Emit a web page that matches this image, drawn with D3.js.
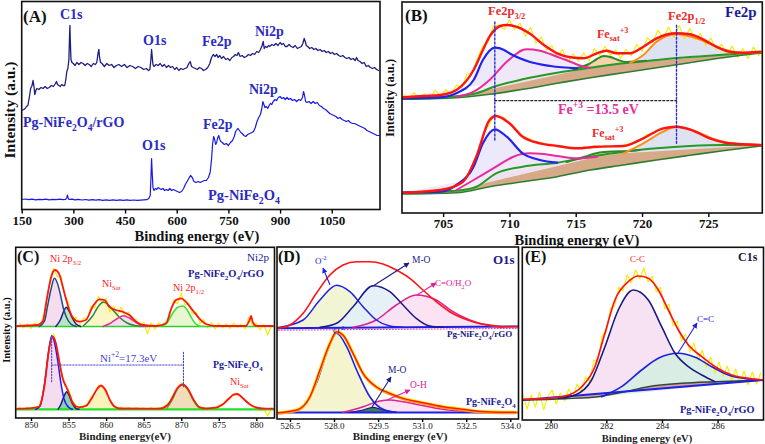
<!DOCTYPE html>
<html><head><meta charset="utf-8">
<script src="https://cdn.jsdelivr.net/npm/d3@7/dist/d3.min.js"></script>
<style>html,body{margin:0;padding:0;background:#fff;}svg{display:block;}</style>
</head><body>
<svg id="chart" width="765" height="444" xmlns="http://www.w3.org/2000/svg"></svg>
<script>
// ================= DATA =================
const ticksA=[150,300,450,600,750,900,1050];
const ticksB=[705,710,715,720,725];
const ticksC=[850,855,860,865,870,875,880];
const ticksD=[526.5,528,529.5,531,532.5,534];
const ticksE=[280,282,284,286];

// (A) survey spectra [binding energy, intensity]
const surveyRGO=[[150,99],[156,100],[160,101],[164,103],[168,104],[172,112],[176,121],[180,124],[183,129],[186,122],[188,115],[191,119],[194,121],[200,120],[206,122],[212,121],[218,123],[224,121],[230,122],[236,124],[242,123],[248,126],[251,128],[254,125],[258,124],[262,123],[266,125],[270,124],[275,124],[278,130],[281,138],[284,141],[287,150],[289,175],[290,184],[291,170],[293,150],[296,147],[300,146],[305,144],[310,147],[316,145],[322,147],[328,146],[334,144],[340,146],[346,145],[352,143],[358,146],[364,145],[368,147],[371,155],[374,160],[376,152],[379,147],[383,146],[390,143],[397,146],[404,144],[411,145],[418,142],[425,144],[432,145],[440,143],[448,145],[456,142],[464,144],[472,143],[480,141],[488,143],[496,142],[504,140],[512,141],[518,139],[522,140],[525,150],[527,160],[529,152],[531,145],[534,143],[540,145],[546,144],[552,146],[558,143],[564,145],[570,142],[576,144],[582,142],[588,143],[594,140],[600,142],[606,139],[612,141],[618,140],[624,141],[630,142],[635,146],[639,148],[643,143],[648,142],[654,141],[660,140],[666,142],[672,141],[678,139],[684,140],[690,142],[696,146],[701,152],[706,155],[711,153],[716,155],[720,152],[725,154],[730,151],[736,153],[742,150],[748,151],[754,149],[760,152],[765,153],[770,155],[775,154],[779,157],[784,153],[790,154],[796,152],[802,153],[808,155],[814,154],[820,156],[826,155],[832,158],[838,157],[843,160],[848,164],[851,168],[854,161],[858,163],[862,162],[866,164],[870,163],[876,165],[882,164],[888,166],[894,164],[900,167],[905,165],[910,166],[915,163],[920,163],[926,165],[932,163],[938,162],[944,164],[950,161],[956,162],[962,163],[966,166],[970,171],[973,168],[976,164],[980,163],[986,161],[992,162],[998,160],[1004,161],[1010,159],[1016,160],[1022,158],[1028,159],[1034,157],[1040,158],[1046,156],[1052,157],[1058,155],[1064,156],[1070,154],[1076,153],[1082,154],[1088,152],[1094,151],[1100,152],[1106,150],[1112,151],[1118,149],[1122,152],[1126,149],[1132,148],[1138,146],[1144,147],[1150,143],[1156,144],[1162,142],[1168,141],[1174,142],[1180,140],[1186,139]];
const surveyNF=[[150,10],[160,10.5],[170,9.8],[180,10.3],[190,9.7],[200,10.2],[210,9.9],[220,10.4],[230,9.6],[240,10.1],[250,9.8],[260,10.3],[270,9.9],[278,10.2],[281,12],[283,14.5],[285,11],[288,10],[296,10.3],[305,9.7],[315,10.1],[325,9.5],[335,10],[345,9.4],[355,9.9],[365,9.3],[375,9.8],[385,9.2],[395,9.7],[405,9.1],[415,9.6],[425,9.2],[435,9.7],[445,9.1],[455,9.6],[465,9.2],[475,9.5],[485,9.1],[495,9.4],[505,9.6],[513,9.8],[519,11],[523,14],[525,30],[527,51],[529,35],[531,22],[534,19],[538,21],[542,20],[546,22],[550,21],[555,20],[560,21],[565,19],[570,20],[575,19],[580,21],[585,19],[590,20],[596,19],[602,18],[608,17],[614,18],[620,21],[625,25],[630,28],[635,31],[640,34],[645,32],[650,28],[656,27],[662,28],[668,27],[674,28],[680,29],[686,29],[692,32],[697,37],[701,50],[704,65],[707,73],[710,70],[713,65],[716,67],[719,72],[722,74],[725,70],[728,68],[732,67],[738,65],[744,66],[750,64],[756,67],[762,69],[767,73],[771,78],[775,80],[778,81],[782,79],[786,77],[790,76],[795,74],[800,73],[806,75],[812,76],[818,77],[823,78],[828,82],[833,88],[838,92],[843,95],[847,101],[850,108],[853,105],[856,102],[860,103],[864,101],[868,104],[872,106],[876,105],[880,108],[885,110],[890,109],[895,112],[900,113],[905,111],[910,112],[915,110],[920,112],[925,110],[930,111],[936,109],[942,110],[948,108],[954,110],[960,109],[965,112],[968,118],[971,114],[974,108],[978,107],[984,108],[990,106],[996,108],[1002,106],[1008,107],[1014,104],[1020,103],[1026,101],[1032,100],[1038,98],[1044,96],[1050,95],[1056,94],[1062,93],[1068,91],[1074,92],[1080,90],[1086,89],[1092,88],[1098,89],[1104,87],[1110,86],[1116,86],[1122,85],[1128,84],[1134,83],[1140,82],[1146,81],[1152,79],[1158,78],[1164,77],[1170,76],[1176,75],[1182,74],[1188,74]];

// (B) Fe2p, Pg-NiFe2O4/rGO (upper)
const fe2pRGORaw=[[702.0,118.7],[702.4,114],[702.8,120.3],[703.2,113.7],[703.6,119.1],[704.0,113.5],[704.4,123],[704.8,116.6],[705.2,123.6],[705.6,118],[706.0,128],[706.4,125],[706.8,139],[707.2,140],[707.6,155],[708.0,167],[708.4,171],[708.8,187],[709.2,188],[709.6,183.6],[710.0,193],[710.4,183.5],[710.8,190],[711.2,176.7],[711.6,185.6],[712.0,170],[712.4,176],[712.8,163],[713.2,167.4],[713.6,155.5],[714.0,163.5],[714.4,151.2],[714.8,159.3],[715.2,151.9],[715.6,160],[716.0,152],[716.4,164.4],[716.8,157.5],[717.2,166.7],[717.6,157.6],[718.0,163],[718.4,154.6],[718.8,163.6],[719.2,157.2],[719.6,168.7],[720.0,161.5],[720.4,175.3],[720.8,170],[721.2,183],[721.6,174.4],[722.0,186],[722.4,175.6],[722.8,187.6],[723.2,174.3],[723.6,184.4],[724.0,173],[724.4,179.4],[724.8,167.6],[725.2,174.8],[725.6,163.3],[726.0,168.5],[726.4,157.9],[726.8,166.9],[727.2,155.4],[727.6,164.3],[728.0,154.5],[728.4,165.9],[728.8,157.2],[729.1,164.3]];
const fe2pRGOEnv=[[702.0,115.7],[703.5,117],[704.8,118],[706.0,123],[707.3,143],[708.0,163],[708.5,176.3],[709.3,187],[709.8,188],[710.5,186.3],[711.5,179.7],[712.6,168],[713.6,159.7],[714.6,155.7],[715.6,154.7],[716.6,159.7],[717.3,162.3],[718.1,159.7],[719.1,159.7],[720.1,166.3],[721.1,174.7],[722.6,179.7],[723.6,178.7],[724.6,173.7],[725.6,166.3],[726.6,161.3],[727.6,160.3],[728.9,161.3]];
const fe2pRGOShirley=[[701.9,115.3],[706.0,116.7],[707.5,119.7],[709.0,127],[711.0,133.7],[713.6,140.3],[716.1,145.3],[718.6,149.7],[721.1,153],[723.6,156],[726.1,158.3],[729.1,161]];
const fe2pRGOLinear=[[701.9,113.7],[706.0,115.3],[708.5,118.7],[711.0,123.7],[713.6,129.7],[716.1,135.3],[718.6,140.3],[721.1,145.3],[723.6,150.3],[726.1,155.3],[729.1,160.3]];
const fe2pRGOFe3=[[701.9,114.7],[704.8,115.7],[706.0,119.7],[707.3,133],[708.0,153],[708.9,165.3],[709.6,163],[710.0,159.7],[711.5,151.3],[713.1,147],[715.1,144.7]];
const fe2pRGOSat1=[[706.0,116.3],[707.3,121.3],[708.5,133],[709.8,151.3],[711.3,163.7],[712.3,162.3],[713.6,156.3],[714.6,151.3],[715.6,146.3],[716.1,145.3]];
const fe2pRGOSat2=[[714.8,144],[716.0,149],[716.6,154],[717.1,157],[717.6,156],[718.2,153],[718.8,151],[719.6,151.5],[720.3,152.3]];
const fe2pRGOHalf=[[719.1,150],[720.1,158],[721.1,171.3],[722.6,178.7],[724.1,174.7],[725.6,166.3],[727.4,160.3],[729.1,161]];
// (B) Fe2p, Pg-NiFe2O4 (lower)
const fe2pNFRaw=[[702.0,21.3],[702.4,19.8],[702.8,21.6],[703.2,20.6],[703.6,22.5],[704.0,21.2],[704.4,23.4],[704.8,22.3],[705.2,24.8],[705.6,24.6],[706.0,28.5],[706.4,29.3],[706.8,37.5],[707.2,45],[707.6,60.5],[708.0,77.5],[708.4,87],[708.8,96.5],[709.2,97],[709.6,95.5],[710.0,89],[710.4,85.5],[710.8,78],[711.2,76],[711.6,73.8],[712.0,70.5],[712.4,70.8],[712.8,68],[713.2,68.9],[713.6,66.5],[714.0,67.2],[714.4,65],[714.8,65.9],[715.2,64.3],[715.6,66.2],[716.0,65],[716.4,67.2],[716.8,65.8],[717.2,67.5],[717.6,66],[718.0,67.8],[718.4,66.4],[718.8,68.8],[719.2,69.3],[719.6,72.8],[720.0,74],[720.4,78.5],[720.8,79.6],[721.2,83.5],[721.6,84],[722.0,86.8],[722.4,85.8],[722.8,87],[723.2,85],[723.6,84.5],[724.0,80.7],[724.4,79.5],[724.8,75.8],[725.2,74.6],[725.6,71.5],[726.0,72],[726.4,69.3],[726.8,70],[727.2,68.2],[727.6,69.2],[728.0,67.5],[728.4,68.8],[728.8,67.4],[729.1,68.5]];
const fe2pNFEnv=[[702.0,20.3],[704.8,23],[706.5,31.3],[707.5,56.3],[708.5,93],[709.0,97],[710.0,89.7],[711.0,76.3],[712.3,69.7],[713.6,67],[715.1,64.7],[716.6,66.3],[718.6,67],[720.1,74.7],[721.6,84.7],[722.6,86.3],[723.6,83.7],[725.1,74.7],[726.6,69.7],[728.9,68]];
const fe2pNFShirley=[[701.9,20.3],[706.0,22.3],[707.5,26.3],[709.0,39.7],[711.0,46.3],[713.6,50.3],[716.1,56.3],[718.6,61.3],[721.1,64.7],[723.6,67],[726.1,68],[729.1,68]];
const fe2pNFLinear=[[701.9,19],[706.0,20.3],[708.5,26.3],[711.0,31.3],[713.6,36.3],[716.1,43],[718.6,48],[721.1,53],[723.6,57.7],[726.1,62.3],[729.1,67.3]];
const fe2pNFFe3=[[701.9,20.3],[704.8,21.3],[706.0,28],[707.3,46.3],[708.0,69.7],[708.9,83.7],[709.8,76.3],[711.0,59.7],[712.3,53],[713.6,50.3]];
const fe2pNFSat1=[[706.0,23],[707.3,33],[709.0,46.3],[710.3,56.3],[711.5,59.7],[712.6,59],[713.6,57],[715.1,54.7],[716.6,56.3]];
const fe2pNFSat2=[[714.3,51],[715.6,56],[716.8,60.5],[717.8,61.5],[718.8,61.8],[719.8,63]];
const fe2pNFHalf=[[718.6,59.7],[720.1,69.7],[721.6,81.3],[722.6,86.3],[724.1,81.3],[725.6,73],[727.4,68.7],[729.1,68]];
const fe2pPeaks=[708.9,722.6];

// (C) Ni2p
const ni2pRGORaw=[[848.5,95],[849,90],[849.5,94.5],[850,89.5],[850.5,95.5],[851,91],[851.5,98.5],[852,111],[852.5,138],[853,150],[853.5,141],[854,142],[854.5,122],[855,115],[855.5,97],[856,101],[856.5,93],[857,100],[857.5,98.5],[858,112],[858.5,110],[859,122],[859.5,114],[860,120],[860.5,106],[861,112],[861.5,103],[862,111],[862.5,101.5],[863,106],[863.5,96.5],[864,99],[864.5,90.5],[865,96],[865.5,84],[866,95],[866.5,89],[867,95.5],[867.5,91],[868,97],[868.5,103],[869,118],[869.5,114],[870,125],[870.5,113],[871,115],[871.5,104],[872,106],[872.5,94.5],[873,98.5],[873.5,90.5],[874,95.5],[874.5,89],[875,95],[875.5,90],[876,94.5],[876.5,89.5],[877,95],[877.5,90.5],[878,94],[878.5,89],[879,101],[879.5,92],[880,95],[880.5,88],[881,93.5],[881.5,83],[882,92]];
const ni2pRGOEnv=[[848.2,92],[850.9,93],[851.6,97],[852.0,114.7],[852.4,131],[852.7,141.3],[853.2,148],[853.8,143],[854.2,132],[854.7,118],[855.1,108],[855.5,101.3],[856.4,96.3],[857.3,98],[858.2,111.3],[859.1,118.7],[859.8,118],[860.4,111.3],[861.3,108],[862.2,106.3],[863.1,103],[864.0,96.3],[864.9,93],[866.6,92],[868.0,94.7],[868.6,108],[869.3,118],[870.0,119.7],[870.6,116.3],[871.5,108],[872.4,99.7],[873.3,94],[874.6,92],[878.6,92],[879.1,98],[879.3,102],[879.5,96.3],[880.0,92],[882.2,92]];
const ni2pRGOMain=[[851.1,91.5],[851.8,97],[852.2,112],[852.7,130],[853.1,139.7],[853.5,135],[853.9,124],[854.3,110],[854.7,101],[855.3,94],[856.0,91.5]];
const ni2pRGOSide=[[853.3,91.5],[853.9,98],[854.4,107.5],[854.7,110.7],[855.1,106.5],[855.5,100],[856.0,94],[856.6,91.5]];
const ni2pRGOSat1=[[857.0,92.5],[858.2,102],[859.0,112],[859.6,116],[860.2,114],[860.9,108],[861.8,100.5],[862.8,95],[863.8,92.5],[865.0,91.5]];
const ni2pRGOSat2=[[859.6,91.5],[860.5,94.5],[861.4,99],[862.3,102.3],[863.1,100],[864.0,95.3],[864.9,92],[865.5,91.5]];
const ni2pRGOHalf=[[867.4,91.5],[868.2,96],[868.8,104],[869.5,110.5],[870.2,112],[870.8,108],[871.3,101],[871.8,95.3],[872.4,92],[873.0,91.5]];
const ni2pRGOBase=[[847.9,91.5],[882.5,91.5]];
const ni2pNFRaw=[[848.5,10.5],[849,8.5],[849.5,10.8],[850,8.9],[850.5,11],[851,10.5],[851.5,20],[852,46],[852.5,74],[853,84],[853.5,67],[854,49],[854.5,33],[855,28],[855.5,17],[856,12.5],[856.5,10],[857,12.5],[857.5,13.5],[858,20.5],[858.5,25],[859,32.5],[859.5,31],[860,28.5],[860.5,17],[861,13],[861.5,9],[862,10.8],[862.5,8.5],[863,10.6],[863.5,8.3],[864,10.4],[864.5,8.6],[865,10.2],[865.5,8.4],[866,10.5],[866.5,8.7],[867,10.3],[867.5,10.2],[868,13],[868.5,16.5],[869,24],[869.5,29],[870,35],[870.5,31],[871,26.5],[871.5,19],[872,14.5],[872.5,10.2],[873,10.5],[873.5,8.8],[874,10.5],[874.5,10],[875,12.5],[875.5,13],[876,18],[876.5,20],[877,24.5],[877.5,23],[878,22],[878.5,17.5],[879,15],[879.5,11],[880,11],[880.5,7.5],[881,9],[881.5,2],[882,9]];
const ni2pNFEnv=[[848.2,9.3],[850.0,9.8],[851.1,11.5],[851.8,33],[852.4,69],[852.9,81.3],[853.3,75],[853.8,55],[854.2,40],[854.7,31],[855.1,24],[855.5,16],[856.0,11.5],[856.5,10.8],[857.3,12],[858.2,21.3],[858.8,29],[859.3,32.5],[859.9,28],[860.5,18],[861.1,11.5],[861.8,9.5],[867.1,9.3],[868.2,13],[868.8,20],[869.5,30],[870.2,33.5],[870.9,29],[871.6,19],[872.4,11],[873.3,9.5],[874.6,10.3],[875.5,13.5],[876.3,19],[876.9,23],[877.5,24],[878.2,19.7],[878.9,15],[879.5,12],[880.3,10],[881.3,9.3],[882.2,9.3]];
const ni2pNFMain=[[850.6,8.7],[851.2,12],[851.8,34],[852.3,64],[852.75,82],[853.2,73],[853.6,55],[854.0,34],[854.4,19],[854.9,11.5],[855.5,8.7]];
const ni2pNFSide=[[853.6,8.7],[854.0,14],[854.4,22],[854.75,26.3],[855.1,22],[855.5,14.5],[856.0,9.5],[856.4,8.7]];
const ni2pNFSat1=[[857.2,8.7],[858.0,17],[858.7,27],[859.3,31.5],[859.9,27],[860.6,16],[861.4,9.5],[862.0,8.7]];
const ni2pNFHalf=[[868.0,8.7],[868.8,18],[869.5,29],[870.2,33],[870.9,28],[871.6,17.5],[872.4,10],[873.0,8.7]];
const ni2pNFBase=[[847.9,8.7],[882.5,8.7]];
const ni2pPeaks=[852.75,870.3];

// (D) O1s
const o1sRGOEnv=[[526.1,90.7],[526.5,94],[526.95,105.7],[527.4,125.7],[527.86,144],[528.31,154],[528.77,157.3],[529.22,157.3],[529.67,155],[530.12,149],[530.58,140.7],[531.03,129],[531.48,117.3],[531.94,107.3],[532.39,100.7],[532.84,96.3],[533.3,94],[533.75,92.3],[534.26,92.5]];
const o1sRGOO2=[[526.06,91.2],[526.95,99],[527.52,119],[528.09,133.7],[528.54,127.3],[528.99,112.3],[529.44,99],[529.9,93],[530.35,91.7]];
const o1sRGOMO=[[527.52,91.7],[528.09,95.7],[528.65,112.3],[529.33,133.3],[529.9,127.3],[530.35,114],[530.8,100.7],[531.26,93],[531.71,91.7]];
const o1sRGOCO=[[528.65,91.7],[529.44,99],[530.12,114],[530.8,124],[531.48,119],[532.05,107.3],[532.62,99],[533.18,94],[533.75,91.7]];
const o1sRGOBase=[[526.0,90.8],[534.3,92.6]];
const o1sNFEnv=[[526.1,6.3],[526.73,9],[527.18,22.3],[527.52,49],[527.86,75.7],[528.09,87.3],[528.31,84],[528.65,65.7],[528.99,45.7],[529.44,32.3],[529.9,25.7],[530.35,20.7],[531.03,16.3],[531.71,12.3],[532.39,9.7],[533.18,7.3],[534.2,6.7]];
const o1sNFO2=[[526.5,6.7],[526.95,12.3],[527.4,35.7],[527.75,65.7],[528.09,85.7],[528.43,72.3],[528.77,49],[529.22,22.3],[529.67,9.7],[530.12,6.7]];
const o1sNFMO=[[528.54,6.7],[528.99,9],[529.33,11.7],[529.67,9],[530.12,6.7]];
const o1sNFOH=[[528.31,6.7],[528.99,12.3],[529.56,18],[529.9,19],[530.35,17.3],[530.92,14],[531.71,9.7],[532.62,7.3],[533.75,6.3]];
const o1sNFBase=[[526.0,6.5],[534.3,6.5]];

// (E) C1s
const c1sRaw=[[279.0,26],[279.15,11],[279.3,25],[279.45,13],[279.6,28],[279.75,10],[279.9,24],[280.05,30],[280.2,16],[280.35,27],[280.5,19],[280.65,31],[280.8,23],[280.95,36],[281.1,28],[281.25,43],[281.4,39],[281.55,60],[281.7,58],[281.85,85],[282.0,88],[282.15,112],[282.3,114],[282.45,133],[282.6,129],[282.75,145],[282.9,137],[283.05,150],[283.2,141],[283.35,152],[283.5,138],[283.65,144],[283.8,128],[283.95,133],[284.1,111],[284.25,116],[284.4,94],[284.55,99],[284.7,79],[284.85,86],[285.0,68],[285.15,77],[285.3,60],[285.45,70],[285.6,53],[285.75,63],[285.9,47],[286.05,58],[286.2,44],[286.35,54],[286.5,39],[286.65,51],[286.8,37],[286.95,49],[287.1,35],[287.25,48],[287.4,36],[287.55,47]];
const c1sEnv=[[279.0,20.7],[279.92,21.7],[280.52,24],[281.12,33.3],[281.59,53.3],[281.95,86.7],[282.31,120],[282.79,138.3],[283.15,144],[283.51,141.7],[283.87,130],[284.23,110],[284.59,90],[284.95,75],[285.43,63.3],[285.91,53.3],[286.51,45],[287.11,41.7],[287.65,40]];
const c1sCC=[[280.28,21.7],[280.88,25],[281.47,40],[281.95,73.3],[282.43,110],[282.97,130],[283.51,120],[283.99,93.3],[284.47,66.7],[284.95,53.3],[285.43,45],[285.91,38.3]];
const c1sCdC=[[281.83,23.3],[282.55,33.3],[283.27,50],[283.87,61.7],[284.59,66.7],[285.19,62.7],[285.79,53.3],[286.39,45],[287.11,41],[287.65,40]];
const c1sShirley=[[279.0,20],[280.52,21.3],[281.71,23.3],[282.67,28.3],[283.51,33.3],[284.71,36.7],[285.91,38.3],[287.65,40]];
const c1sLinear=[[279.0,20],[287.65,40]];

// ================= DRAWING =================
const svg=d3.select("#chart");
const FONT='"Liberation Serif","Times New Roman",Times,serif';
svg.attr("font-family",FONT);
const defs=svg.append("defs");
function marker(id,color){
  defs.append("marker").attr("id",id).attr("viewBox","0 0 10 10").attr("refX",9).attr("refY",5)
    .attr("markerWidth",5).attr("markerHeight",5).attr("orient","auto")
    .append("path").attr("d","M0,0L10,5L0,10z").attr("fill",color);
}
marker("mBlue","#2020e0");marker("mNavy","#1a1a8c");marker("mMag","#e0208f");

function panel(id,box,xd,yd){
  const x=d3.scaleLinear().domain(xd).range([box.l,box.r]);
  const y=d3.scaleLinear().domain(yd).range([box.b,box.t]);
  defs.append("clipPath").attr("id","clip"+id).append("rect")
    .attr("x",box.l).attr("y",box.t).attr("width",box.r-box.l).attr("height",box.b-box.t);
  const g=svg.append("g").attr("clip-path",`url(#clip${id})`);
  return {x,y,g,box};
}
function gen(P,curve){return d3.line().x(d=>P.x(d[0])).y(d=>P.y(d[1])).curve(curve||d3.curveMonotoneX);}
function ln(P,data,color,w,curve,dash){
  const p=P.g.append("path").attr("d",gen(P,curve)(data)).attr("fill","none").attr("stroke",color)
    .attr("stroke-width",w).attr("stroke-linejoin","round").attr("stroke-linecap","round");
  if(dash) p.attr("stroke-dasharray",dash);
  return p;
}
function fillC(P,data,color,op){
  P.g.append("path").attr("d",gen(P)(data)+"Z").attr("fill",color).attr("fill-opacity",op==null?1:op).attr("stroke","none");
}
function band(P,upper,lower,color,op){
  const poly=upper.concat(lower.slice().reverse());
  P.g.append("path").attr("d",gen(P,d3.curveLinear)(poly)+"Z").attr("fill",color).attr("fill-opacity",op==null?1:op);
}
function axis(P,ticks,fmt,fs,fw,size,pad){
  const ax=d3.axisBottom(P.x).tickValues(ticks).tickSize(size).tickSizeOuter(0).tickPadding(pad).tickFormat(fmt);
  const a=svg.append("g").attr("transform",`translate(0,${P.box.b})`).call(ax);
  a.attr("font-family",FONT);
  a.select(".domain").remove();
  a.selectAll("line").attr("stroke","#000").attr("stroke-width",1.4);
  a.selectAll("text").attr("font-family",FONT).attr("font-size",fs).attr("font-weight",fw).attr("fill","#111");
}
function frame(P){
  svg.append("rect").attr("x",P.box.l).attr("y",P.box.t).attr("width",P.box.r-P.box.l).attr("height",P.box.b-P.box.t)
    .attr("fill","none").attr("stroke","#111").attr("stroke-width",1.6);
}
function rich(x,y,parts,fs,color,fw,anchor){
  const t=svg.append("text").attr("x",x).attr("y",y).attr("font-size",fs).attr("font-weight",fw||"bold")
    .attr("fill",color).attr("text-anchor",anchor||"start");
  parts.forEach(p=>{
    const s=t.append("tspan").text(typeof p==="string"?p:p[0]);
    if(Array.isArray(p)){
      s.attr("font-size",fs*0.68);
      s.attr("baseline-shift",p[1]==="sub"?(-fs*0.28)+"px":(fs*0.42)+"px");
    }
  });
  return t;
}
function vtext(x,y,str,fs){
  svg.append("text").attr("transform",`translate(${x},${y}) rotate(-90)`).attr("text-anchor","middle")
    .attr("font-size",fs).attr("font-weight","bold").attr("fill","#111").text(str);
}
function arrow(x1,y1,x2,y2,color,m){
  svg.append("line").attr("x1",x1).attr("y1",y1).attr("x2",x2).attr("y2",y2).attr("stroke",color)
    .attr("stroke-width",1.1).attr("marker-end",`url(#${m})`);
}
const PG=t=>["Pg-NiFe",["2","sub"],"O",["4","sub"]].concat(t?[t]:[]);

// ---------- Panel A ----------
const PA=panel("A",{l:21.7,r:380,t:1.5,b:209.5},[150,1190],[0,208]);
ln(PA,surveyNF,"#1818e6",1.2,d3.curveLinear);
ln(PA,surveyRGO,"#1e1e80",1.3,d3.curveLinear);
axis(PA,ticksA,d3.format("d"),13,"bold",4,2);
frame(PA);
const LB="#2b2bc4";
rich(23,22,["(A)"],17,"#111");
rich(60,19,["C1s"],14,LB);
rich(143,45,["O1s"],14,LB);
rich(202,46,["Fe2p"],14,LB);
rich(255,36,["Ni2p"],14,LB);
rich(23,127,PG("/rGO"),14,LB);
rich(249,94,["Ni2p"],14,LB);
rich(203,129,["Fe2p"],14,LB);
rich(142,150,["O1s"],14,LB);
rich(208,200,PG(),14.5,LB);
rich(197,241,["Binding energy (eV)"],14.5,"#111","bold","middle");
vtext(15,110,"Intensity (a.u.)",15.5);

// ---------- Panel B ----------
const PB=panel("B",{l:402,r:762.3,t:2,b:213},[701.9,729.07],[0,211]);
function fe2pBlock(raw,env,shir,lin,fe3,s1,s2,half){
  band(PB,shir,lin,"#cf9a74",0.85);
  fillC(PB,half,"#dfe3f1");
  fillC(PB,fe3,"#ebe9fa");
  fillC(PB,s1,"#f1e8f8",0.9);
  fillC(PB,s2,"#f6d3a8");
  ln(PB,raw,"#f0ec00",1.1,d3.curveLinear);
  ln(PB,lin,"#2f7d2f",1.6);
  ln(PB,shir,"#269926",2);
  ln(PB,s2,"#2a8a2a",2);
  ln(PB,half,"#ff8a1a",2);
  ln(PB,s1,"#ea2a9c",2);
  ln(PB,fe3,"#2323ee",2.2);
  ln(PB,env,"#ff1414",2.4);
}
fe2pBlock(fe2pRGORaw,fe2pRGOEnv,fe2pRGOShirley,fe2pRGOLinear,fe2pRGOFe3,fe2pRGOSat1,fe2pRGOSat2,fe2pRGOHalf);
fe2pBlock(fe2pNFRaw,fe2pNFEnv,fe2pNFShirley,fe2pNFLinear,fe2pNFFe3,fe2pNFSat1,fe2pNFSat2,fe2pNFHalf);
ln(PB,[[fe2pPeaks[0],73],[fe2pPeaks[0],193]],"#2b2bd0",1.4,d3.curveLinear,"2,2");
ln(PB,[[fe2pPeaks[1],69.7],[fe2pPeaks[1],189.7]],"#2b2bd0",1.4,d3.curveLinear,"2,2");
ln(PB,[[fe2pPeaks[0],112.3],[fe2pPeaks[1],112.3]],"#222",1.2,d3.curveLinear,"2,2");
axis(PB,ticksB,d3.format("d"),13,"bold",4,2);
frame(PB);
const RD="#ee2a2a";
rich(405,21,["(B)"],17,"#111");
rich(488,15,["Fe2p",["3/2","sub"]],12.5,RD);
rich(668,20,["Fe2p",["1/2","sub"]],12.5,RD);
rich(725,17,["Fe2p"],15,"#1a1aa0");
rich(597,38,["Fe",["sat","sub"],["+3","sup"]],12,RD);
rich(558,114,["Fe",["+3","sup"]," =13.5 eV"],14,"#e8309c");
rich(592,137,["Fe",["sat","sub"],["+3","sup"]],12,RD);
rich(577,244.5,["Binding energy (eV)"],14.5,"#111","bold","middle");
vtext(394,98,"Intensity (a.u.)",12.5);

// ---------- Panel C ----------
const PC=panel("C",{l:15.7,r:274.5,t:247.3,b:418},[847.96,882.42],[0,170.7]);
fillC(PC,ni2pRGOSat1,"#fbf6c6");
fillC(PC,ni2pRGOSat2,"#f6dcef",0.9);
fillC(PC,ni2pRGOHalf,"#e8f6d2");
fillC(PC,ni2pRGOMain,"#f6dcef");
fillC(PC,ni2pRGOSide,"#b8e6c2");
ln(PC,ni2pRGORaw,"#f4ee00",1.1,d3.curveLinear);
ln(PC,ni2pRGOBase,"#2fcf2f",1.6,d3.curveLinear);
ln(PC,ni2pRGOSat1,"#2a8a3a",1.5);
ln(PC,ni2pRGOSat2,"#e0309a",1.5);
ln(PC,ni2pRGOHalf,"#39e039",1.5);
ln(PC,ni2pRGOSide,"#1a1a8c",1.5);
ln(PC,ni2pRGOMain,"#1f4f80",1.5);
ln(PC,ni2pRGOEnv,"#ff1414",1.8);
fillC(PC,ni2pNFSat1,"#fbf3bc");
fillC(PC,ni2pNFHalf,"#f1dcbc");
fillC(PC,ni2pNFMain,"#f6dcef");
fillC(PC,ni2pNFSide,"#8fd0a6");
ln(PC,ni2pNFRaw,"#f4ee00",1.3,d3.curveLinear);
ln(PC,ni2pNFBase,"#22e022",2.2,d3.curveLinear);
ln(PC,ni2pNFHalf,"#2fbf2f",1.4);
ln(PC,ni2pNFSide,"#1a1a8c",1.5);
ln(PC,ni2pNFMain,"#1a1aff",1.5);
ln(PC,ni2pNFEnv,"#ff1414",1.8);
ln(PC,[[ni2pPeaks[0],36.3],[ni2pPeaks[0],83]],"#4a4ad0",1.1,d3.curveLinear,"1.5,1.5");
ln(PC,[[ni2pPeaks[1],31.3],[ni2pPeaks[1],66.3]],"#4a4ad0",1.1,d3.curveLinear,"1.5,1.5");
ln(PC,[[ni2pPeaks[0],53],[ni2pPeaks[1],53]],"#4a4ad0",1.1,d3.curveLinear,"1.5,1.5");
axis(PC,ticksC,d3.format("d"),9,"normal",3,1);
frame(PC);
rich(17,262,["(C)"],16,"#111");
rich(50,262,["Ni 2p",["3/2","sub"]],10,"#ff2020","normal");
rich(247,261,["Ni2p"],11,"#1a1a9a","normal");
rich(188,277,PG("/rGO"),10.5,"#1a1a9a");
rich(102,287,["Ni",["Sat","sub"]],10,"#ff2020","normal");
rich(173,291,["Ni 2p",["1/2","sub"]],10,"#ff2020","normal");
rich(100,362,["Ni",["+2","sup"],"=17.3eV"],11,"#4646d2","normal");
rich(213,368,PG(),10,"#1a1a9a");
rich(230,385,["Ni",["Sat","sub"]],10,"#ff2020","normal");
rich(125,440,["Binding energy(eV)"],11,"#222","bold","middle");
vtext(10,330,"Intensity (a.u.)",10.5);

// ---------- Panel D ----------
const PD=panel("D",{l:277,r:518.5,t:247,b:419},[526.06,534.28],[0,172]);
fillC(PD,o1sRGOO2,"#f2f5d4");
fillC(PD,o1sRGOMO,"#e2eff6",0.9);
fillC(PD,o1sRGOCO,"#fbe0f2",0.9);
ln(PD,o1sRGOBase,"#e0309a",1,d3.curveLinear,"1,2").attr("transform","translate(0,2)");
ln(PD,o1sRGOBase,"#2020e0",2,d3.curveLinear);
ln(PD,o1sRGOCO,"#e0208f",1.5);
ln(PD,o1sRGOMO,"#1a1a8c",1.5);
ln(PD,o1sRGOO2,"#2020e0",1.5);
ln(PD,o1sRGOEnv,"#ff1414",1.6);
fillC(PD,o1sNFO2,"#f4f5cf");
fillC(PD,o1sNFOH,"#fbe0f2",0.9);
fillC(PD,o1sNFMO,"#3f7f55");
ln(PD,o1sNFBase,"#2020e0",2,d3.curveLinear);
ln(PD,o1sNFOH,"#e0208f",1.5);
ln(PD,o1sNFMO,"#1a1a8c",1.2);
ln(PD,o1sNFO2,"#2020e0",1.6);
ln(PD,o1sNFEnv,"#ffee00",3.2);
ln(PD,o1sNFEnv,"#ff9a1a",1.4).attr("transform","translate(0,1.3)");
ln(PD,o1sNFEnv,"#ff1414",1.4);
axis(PD,ticksD,d3.format(".1f"),9,"normal",3,1);
frame(PD);
rich(278,262,["(D)"],16,"#111");
rich(315,264,["O",["-2","sup"]],9,"#2020e0","normal");
arrow(330,285,323,268,"#2020e0","mBlue");
rich(412,263,["M-O"],9.5,"#1a1a8c","normal");
arrow(373,286,409,263,"#1a1a8c","mNavy");
rich(435,286,["C=O/H",["2","sub"],"O"],9,"#e0208f","normal");
arrow(417,295,436,283,"#e0208f","mMag");
rich(493,264,["O1s"],13,"#1a1a8c");
rich(447,337,PG("/rGO"),9,"#1a1a7a");
rich(333,334,["O",["-2","sup"]],9,"#2020e0","normal");
rich(388,373,["M-O"],9.5,"#1a1a8c","normal");
arrow(372,407,391,377,"#1a1a8c","mNavy");
rich(410,388,["O-H"],9.5,"#e0208f","normal");
arrow(387,400,410,390,"#e0208f","mMag");
rich(466,405,PG(),10,"#1a1a9a");
rich(400,440,["Binding energy (eV)"],11,"#222","bold","middle");

// ---------- Panel E ----------
const PE=panel("E",{l:522.3,r:763.5,t:247.3,b:420},[278.98,287.65],[0,172.7]);
fillC(PE,c1sCC,"#f7e2f3");
fillC(PE,c1sCdC,"#d6eee2",0.9);
band(PE,c1sShirley,c1sLinear,"#d98c98",0.85);
ln(PE,c1sRaw,"#f4ee00",1.1,d3.curveLinear);
ln(PE,c1sShirley,"#2e4a3a",1.4);
ln(PE,c1sLinear,"#2020e0",2.2,d3.curveLinear);
ln(PE,c1sCdC,"#2020e0",1.6);
ln(PE,c1sCC,"#1a1a80",1.6);
ln(PE,c1sEnv,"#ff1414",1.7);
axis(PE,ticksE,d3.format("d"),9,"normal",3,0);
frame(PE);
rich(525,262,["(E)"],16,"#111");
rich(630,262,["C-C"],9,"#ff2020","normal");
rich(738,261,["C1s"],12,"#1a1a3a");
rich(697,322,["C=C"],9,"#2020e0","normal");
arrow(678,353,697,323,"#2020e0","mBlue");
rich(680,413,PG("/rGO"),10.3,"#1a1a9a");
rich(647,442,["Binding energy (eV)"],10.5,"#222","bold","middle");
</script>
</body></html>
